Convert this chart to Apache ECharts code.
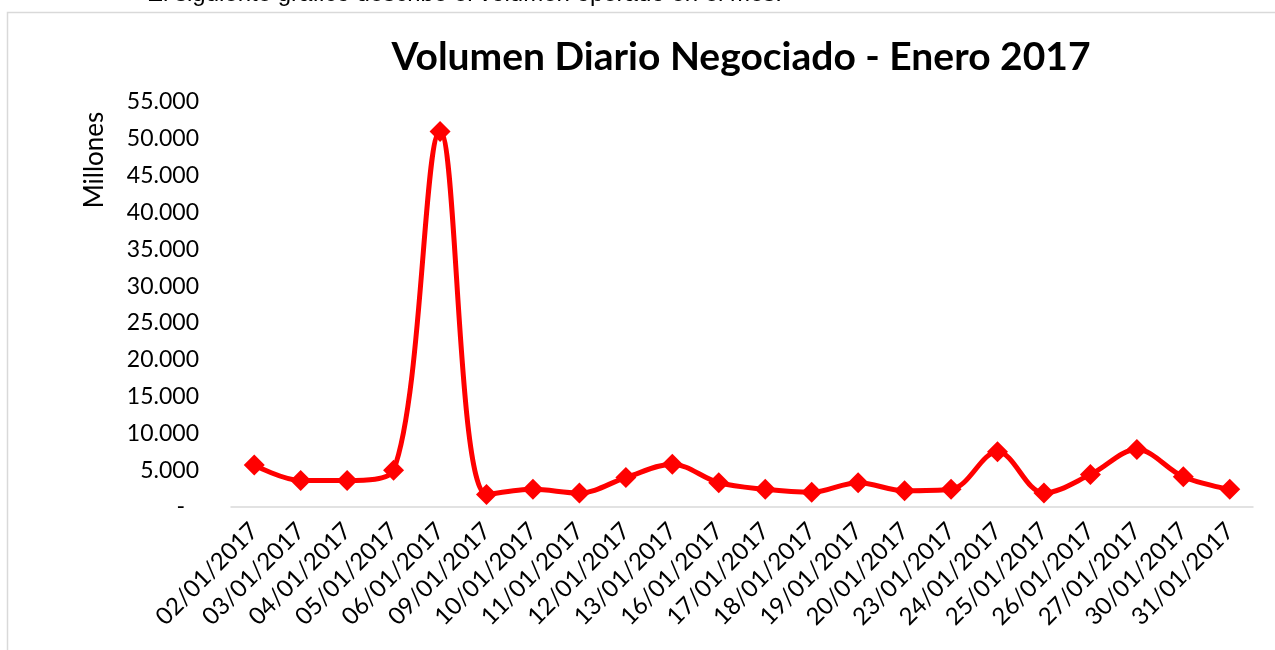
<!DOCTYPE html>
<html>
<head>
<meta charset="utf-8">
<title>Volumen Diario Negociado - Enero 2017</title>
<script src="https://cdn.jsdelivr.net/npm/echarts@6/dist/echarts.min.js"></script>
<style>
  html, body { margin: 0; padding: 0; background: #fff; }
  #chart { width: 1275px; height: 650px; }
</style>
</head>
<body>
<div id="chart"></div>
<script>
// fechas de negociación (eje x)
const fechas = [
  '02/01/2017', '03/01/2017', '04/01/2017', '05/01/2017', '06/01/2017', '09/01/2017',
  '10/01/2017', '11/01/2017', '12/01/2017', '13/01/2017', '16/01/2017', '17/01/2017',
  '18/01/2017', '19/01/2017', '20/01/2017', '23/01/2017', '24/01/2017', '25/01/2017',
  '26/01/2017', '27/01/2017', '30/01/2017', '31/01/2017'
];
// volumen diario, en millones
const volumen = [
  5700, 3600, 3600, 5000, 51000, 1700,
  2400, 1900, 4000, 5800, 3300, 2400,
  2000, 3300, 2200, 2400, 7500, 1900,
  4400, 7800, 4100, 2400
];
// escala del eje y
const yMin = 0;
const yMax = 55000;
const yPaso = 5000;

const titulo = 'Volumen Diario Negociado - Enero 2017';
const textoSuperior = 'El siguiente gráfico describe el volumen operado en el mes.';
const nombreEjeY = 'Millones';

const FONT = 'Lato, "Open Sans", sans-serif';

// formato contable: separador de miles con punto, cero como guion
function formatoMiles(v) {
  if (v === 0) return '{cero|-}';
  return String(v).replace(/\B(?=(\d{3})+(?!\d))/g, '.');
}

const chart = echarts.init(document.getElementById('chart'));

chart.setOption({
  animation: false,
  backgroundColor: '#fff',
  graphic: [
    // texto del documento que queda cortado arriba
    {
      type: 'text',
      left: 147,
      top: -18,
      style: { text: textoSuperior, font: '24px "Liberation Sans", Arial, sans-serif', fill: '#000' }
    },
    // borde del área del gráfico
    {
      type: 'polyline',
      shape: { points: [[7.5, 700], [7.5, 12.5], [1300, 12.5]] },
      style: { stroke: '#d9d9d9', lineWidth: 1.5, fill: null }
    },
    {
      type: 'text',
      x: 741,
      y: 57,
      style: {
        text: titulo, align: 'center', verticalAlign: 'middle',
        font: 'bold 39px ' + FONT, fill: '#000'
      }
    },
    {
      type: 'text',
      x: 95,
      y: 160,
      rotation: Math.PI / 2,
      style: {
        text: nombreEjeY, align: 'center', verticalAlign: 'middle',
        font: '26px ' + FONT, fill: '#000'
      }
    }
  ],
  grid: { left: 231, right: 22, top: 102, bottom: 143, containLabel: false },
  xAxis: {
    type: 'category',
    data: fechas,
    boundaryGap: true,
    axisLine: { lineStyle: { color: '#d9d9d9', width: 1.5 } },
    axisTick: { show: false },
    axisLabel: {
      interval: 0, rotate: 45, margin: 20,
      color: '#000', fontFamily: FONT, fontSize: 24
    }
  },
  yAxis: {
    type: 'value',
    min: yMin, max: yMax, interval: yPaso,
    axisLine: { show: false },
    axisTick: { show: false },
    splitLine: { show: false },
    axisLabel: {
      margin: 32, color: '#000', fontFamily: FONT, fontSize: 23,
      formatter: formatoMiles,
      rich: { cero: { fontFamily: FONT, fontSize: 23, color: '#000', padding: [0, 14, 0, 0] } }
    }
  },
  series: [{
    type: 'line',
    data: volumen,
    smooth: 0.35,
    symbol: 'diamond',
    symbolSize: 21,
    lineStyle: { color: '#ff0000', width: 5 },
    itemStyle: { color: '#ff0000' }
  }]
});
</script>
</body>
</html>
